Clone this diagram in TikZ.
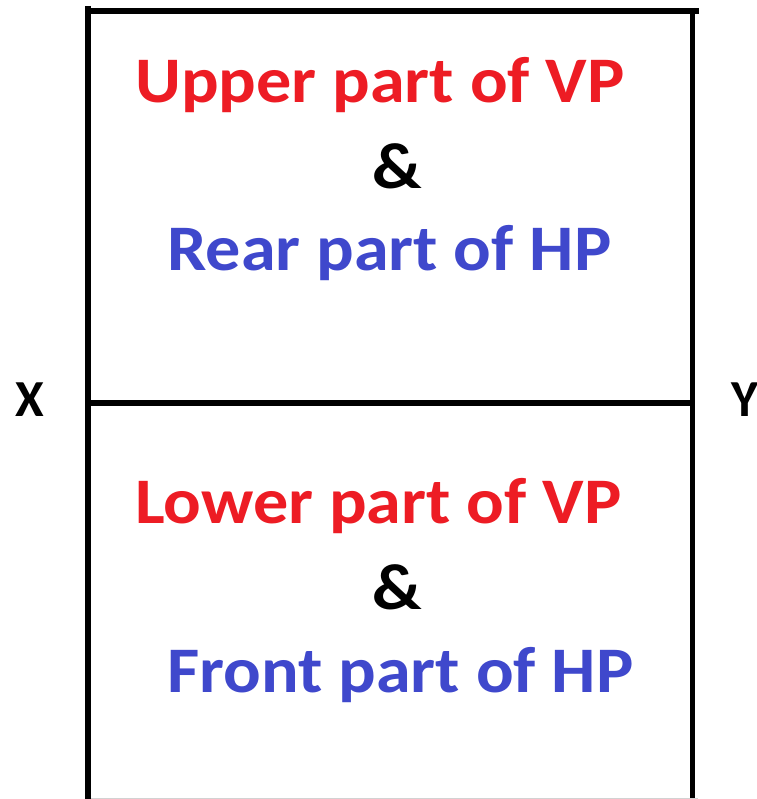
\documentclass[tikz,border=0pt]{standalone}
\usepackage{fontspec}
\setmainfont{Carlito}
\newfontfamily\partfont{Carlito}[FakeStretch=1.08]

\begin{document}
\begin{tikzpicture}[x=1pt, y=-1pt,
    planeLine/.style={line width=5.5pt},
    partText/.style={inner sep=0pt, anchor=base west, font=\partfont\fontsize{65}{78}\selectfont\bfseries},
    axisLabel/.style={inner sep=0pt, anchor=base, font=\fontsize{52}{62}\selectfont\bfseries}]
    \definecolor{vpColour}{RGB}{237,28,36}
    \definecolor{hpColour}{RGB}{63,72,204}
    \useasboundingbox (0,0) rectangle (756,799);

    % Corners of the two planes
    \coordinate (topLeft) at (88,6);
    \coordinate (topStart) at (91,11);
    \coordinate (topRight) at (699,11);
    \coordinate (rightTop) at (692.5,8);
    \coordinate (bottomLeft) at (88,799);
    \coordinate (bottomRight) at (692.5,799);
    \coordinate (xyLeft) at (88,403);
    \coordinate (xyRight) at (692.5,403);

    % Draw frame and XY line
    \draw[planeLine] (topLeft) -- (bottomLeft);
    \draw[planeLine] (topStart) -- (topRight);
    \draw[planeLine] (rightTop) -- (bottomRight);
    \draw[planeLine] (xyLeft) -- (xyRight);
    \draw[gray!35, line width=1pt] (91,798.5) -- (698,798.5);

    % Label X and Y
    \node[axisLabel] (labelX) at (30,416) {X};
    \node[axisLabel] (labelY) at (745,416) {Y};

    % Above XY
    \node[partText, text=vpColour] (upperVP) at (135,103) {Upper part of VP};
    \node[partText, anchor=base] (ampUpper) at (397,189) {\&};
    \node[partText, text=hpColour] (rearHP) at (167,270) {Rear part of HP};

    % Below XY
    \node[partText, text=vpColour] (lowerVP) at (135,523) {Lower part of VP};
    \node[partText, anchor=base] (ampLower) at (397,609) {\&};
    \node[partText, text=hpColour] (frontHP) at (167,692) {Front part of HP};
\end{tikzpicture}
\end{document}
